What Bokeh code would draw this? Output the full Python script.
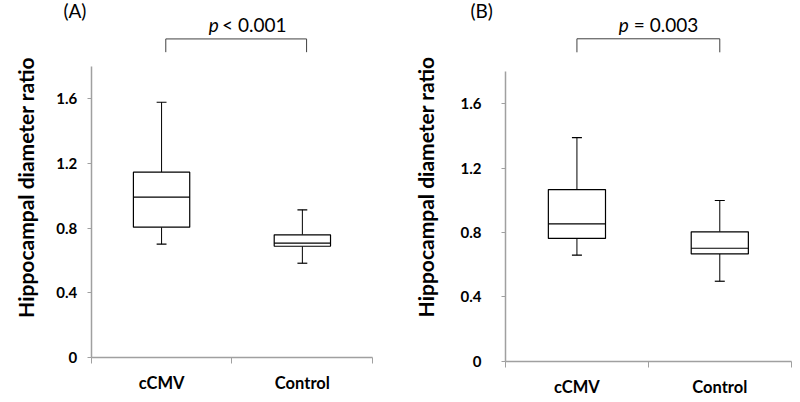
import math
from bokeh.plotting import figure
from bokeh.models import Range1d, FixedTicker, Label
from bokeh.layouts import row
from bokeh.embed import file_html
from bokeh.resources import INLINE

# ---------------- data ----------------
categories = ["cCMV", "Control"]
y_ticks = [0, 0.4, 0.8, 1.2, 1.6]
y_tick_labels = ["0", "0.4", "0.8", "1.2", "1.6"]
y_label = "Hippocampal diameter ratio"

a_min = [0.700, 0.582]
a_q1 = [0.805, 0.687]
a_med = [0.991, 0.706]
a_q3 = [1.146, 0.758]
a_max = [1.579, 0.913]
a_title = "(A)"
a_p_text = "< 0.001"

b_min = [0.659, 0.497]
b_q1 = [0.763, 0.667]
b_med = [0.854, 0.702]
b_q3 = [1.067, 0.804]
b_max = [1.390, 0.999]
b_title = "(B)"
b_p_text = "= 0.003"

FONT = "Lato"
AXIS_GRAY = "#a0a0a0"


def make_panel(mn, q1, med, q3, mx, title, ptext, x_lim, y_lim,
               tick_standoff, ylab_xy, bracket_y, bracket_drop, bracket_shift,
               p_x, p_gap, p_y, title_xy):
    n = len(categories)
    xs = [i + 0.5 for i in range(n)]
    p = figure(width=400, height=402, output_backend="svg",
               toolbar_location=None,
               x_range=Range1d(*x_lim), y_range=Range1d(*y_lim),
               min_border_left=0, min_border_right=0,
               min_border_bottom=0, min_border_top=0)
    p.outline_line_color = None
    p.xgrid.visible = False
    p.ygrid.visible = False
    p.background_fill_color = "white"

    bw = 0.4
    cap = 0.035
    # whiskers
    p.segment(x0=xs, y0=q3, x1=xs, y1=mx, line_color="black", line_width=1)
    p.segment(x0=xs, y0=q1, x1=xs, y1=mn, line_color="black", line_width=1)
    p.segment(x0=[x - cap for x in xs], y0=mx, x1=[x + cap for x in xs], y1=mx,
              line_color="black", line_width=1.2)
    p.segment(x0=[x - cap for x in xs], y0=mn, x1=[x + cap for x in xs], y1=mn,
              line_color="black", line_width=1.2)
    # boxes
    p.vbar(x=xs, width=bw, bottom=q1, top=q3, fill_color="white",
           line_color="black", line_width=1.2)
    p.segment(x0=[x - bw / 2 for x in xs], y0=med, x1=[x + bw / 2 for x in xs],
              y1=med, line_color="black", line_width=1.2)

    # significance bracket
    bx0 = xs[0] + bracket_shift
    bx1 = xs[1] + bracket_shift
    p.line(x=[bx0, bx0, bx1, bx1],
           y=[bracket_drop, bracket_y, bracket_y, bracket_drop],
           line_color="#404040", line_width=1)
    p.add_layout(Label(x=p_x, y=p_y, text="p", text_font=FONT,
                       text_font_style="italic", text_font_size="19px",
                       text_align="left", text_baseline="alphabetic",
                       text_color="black"))
    p.add_layout(Label(x=p_x + p_gap, y=p_y, text=ptext, text_font=FONT,
                       text_font_size="19px", text_align="left",
                       text_baseline="alphabetic", text_color="black"))
    # panel letter
    p.add_layout(Label(x=title_xy[0], y=title_xy[1], text=title, text_font=FONT,
                       text_font_size="19px", text_align="left",
                       text_baseline="alphabetic", text_color="black"))
    # y axis title
    p.add_layout(Label(x=ylab_xy[0], y=ylab_xy[1], text=y_label, text_font=FONT,
                       text_font_size="21px", text_font_style="bold",
                       angle=math.pi / 2, text_align="center",
                       text_baseline="middle", text_color="black"))

    # x axis (placed at y = 0)
    xa = p.xaxis[0]
    xa.fixed_location = 0
    xa.ticker = FixedTicker(ticks=xs, minor_ticks=list(range(n + 1)))
    xa.major_label_overrides = {x: c for x, c in zip(xs, categories)}
    xa.bounds = (0, n)
    xa.major_tick_out = 0
    xa.major_tick_in = 0
    xa.minor_tick_out = 6
    xa.minor_tick_in = 0
    xa.minor_tick_line_color = AXIS_GRAY
    xa.axis_line_color = AXIS_GRAY
    xa.axis_line_width = 1.5
    xa.major_label_text_font = FONT
    xa.major_label_text_font_style = "bold"
    xa.major_label_text_font_size = "16.5px"
    xa.major_label_text_color = "black"
    xa.major_label_standoff = 10

    # y axis (placed at x = 0)
    ya = p.yaxis[0]
    ya.fixed_location = 0
    ya.ticker = FixedTicker(ticks=y_ticks, minor_ticks=[])
    ya.major_label_overrides = {t: s for t, s in zip(y_ticks, y_tick_labels)}
    ya.bounds = (0, 1.8)
    ya.axis_line_color = AXIS_GRAY
    ya.axis_line_width = 1.5
    ya.major_tick_line_color = AXIS_GRAY
    ya.major_tick_out = 4
    ya.major_tick_in = 0
    ya.major_label_text_font = FONT
    ya.major_label_text_font_style = "bold"
    ya.major_label_text_font_size = "15px"
    ya.major_label_text_color = "black"
    ya.major_label_standoff = tick_standoff
    return p


pa = make_panel(a_min, a_q1, a_med, a_q3, a_max, a_title, a_p_text,
                x_lim=(-0.644, 2.197), y_lim=(-0.2805, 2.209),
                tick_standoff=10, ylab_xy=(-0.467, 1.051),
                bracket_y=1.971, bracket_drop=1.889, bracket_shift=0.03,
                p_x=0.835, p_gap=0.095, p_y=2.060,
                title_xy=(-0.197, 2.146))
pb = make_panel(b_min, b_q1, b_med, b_q3, b_max, b_title, b_p_text,
                x_lim=(-0.735, 2.065), y_lim=(-0.2567, 2.242),
                tick_standoff=20, ylab_xy=(-0.56, 1.083),
                bracket_y=2.004, bracket_drop=1.920, bracket_shift=0.0,
                p_x=0.793, p_gap=0.105, p_y=2.093,
                title_xy=(-0.245, 2.179))

layout = row(pa, pb)
open("out.html", "w").write(file_html(layout, INLINE))
